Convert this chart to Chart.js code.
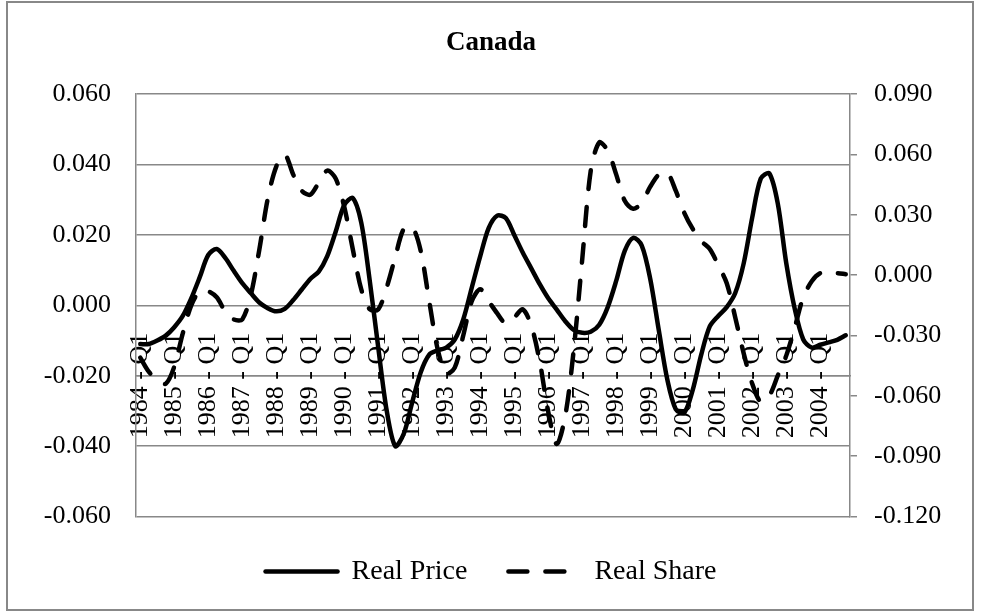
<!DOCTYPE html>
<html>
<head>
<meta charset="utf-8">
<script src="https://cdn.jsdelivr.net/npm/chart.js@4.4.0/dist/chart.umd.min.js"></script>
<style>
html,body{margin:0;padding:0;background:#fff;}
#wrap{width:982px;height:613px;}
</style>
</head>
<body>
<div id="wrap"><canvas id="c" width="982" height="613"></canvas></div>
<script>
const years = [1984,1985,1986,1987,1988,1989,1990,1991,1992,1993,1994,1995,1996,1997,1998,1999,2000,2001,2002,2003,2004];
const quarters = ['Q1','Q2','Q3','Q4'];
const categories = [];
years.forEach(y => quarters.forEach(q => categories.push(y + ' - ' + q)));

const realPrice = [
 -0.011, -0.011, -0.010, -0.0086,
 -0.0062, -0.003, 0.002, 0.008,
 0.0143, 0.016, 0.0135, 0.0098,
 0.0063, 0.0035, 0.0008, -0.0008,
 -0.0017, -0.001, 0.0015, 0.0045,
 0.0075, 0.0096, 0.014, 0.021,
 0.0285, 0.0305, 0.0235, 0.007,
 -0.012, -0.030, -0.040, -0.0365,
 -0.0275, -0.019, -0.014, -0.0128,
 -0.012, -0.0097, -0.004, 0.005,
 0.014, 0.022, 0.0255, 0.0248,
 0.020, 0.015, 0.0105, 0.006,
 0.002, -0.0012, -0.0045, -0.007,
 -0.0078, -0.0075, -0.0055, -0.0005,
 0.007, 0.0155, 0.0192, 0.017,
 0.0075, -0.007, -0.021, -0.0295,
 -0.0305, -0.024, -0.014, -0.006,
 -0.003, -0.0005, 0.0035, 0.012,
 0.025, 0.036, 0.0375, 0.029,
 0.012, -0.001, -0.0097, -0.012,
 -0.0112, -0.0105, -0.0098, -0.0085
];

const realShare = [
 -0.041, -0.048, -0.052, -0.054,
 -0.0455, -0.029, -0.015, -0.008,
 -0.008, -0.011, -0.018, -0.022,
 -0.022, -0.010, 0.0125, 0.038,
 0.054, 0.060, 0.050, 0.042,
 0.040, 0.046, 0.052, 0.048,
 0.034, 0.013, -0.007, -0.017,
 -0.017, -0.006, 0.009, 0.023,
 0.024, 0.012, -0.013, -0.037,
 -0.049, -0.046, -0.030, -0.013,
 -0.007, -0.013, -0.019, -0.024,
 -0.021, -0.017, -0.025, -0.043,
 -0.068, -0.084, -0.070, -0.037,
 0.008, 0.052, 0.066, 0.062,
 0.050, 0.037, 0.033, 0.036,
 0.044, 0.050, 0.051, 0.042,
 0.031, 0.023, 0.017, 0.013,
 0.005, -0.004, -0.021, -0.039,
 -0.054, -0.063, -0.060, -0.050,
 -0.040, -0.026, -0.011, -0.003,
 0.001, 0.001, 0.001, 0.0005
];

const leftTickValues = [-0.06, -0.04, -0.02, 0, 0.02, 0.04, 0.06];
const rightTickValues = [-0.12, -0.09, -0.06, -0.03, 0, 0.03, 0.06, 0.09];

const FONT = "'Liberation Serif', 'Times New Roman', serif";
const GRID = '#888888';
Chart.defaults.font.family = FONT;
Chart.defaults.color = '#000';

const fmt = v => (Math.abs(v) < 1e-9 ? 0 : v).toFixed(3);

const frame = {
  id: 'frame',
  beforeDraw(chart) {
    const c = chart.ctx;
    c.save();
    c.fillStyle = '#fff';
    c.fillRect(0, 0, chart.width, chart.height);
    c.strokeStyle = '#888';
    c.lineWidth = 2;
    c.strokeRect(7, 2, 966, 608);
    c.restore();
  }
};

new Chart(document.getElementById('c'), {
  type: 'line',
  data: {
    labels: categories,
    datasets: [
      {
        label: 'Real Price',
        data: realPrice,
        yAxisID: 'y',
        borderColor: '#000',
        backgroundColor: '#000',
        borderWidth: 4.5,
        borderCapStyle: 'round',
        borderJoinStyle: 'round',
        pointRadius: 0,
        tension: 0.3,
        fill: false
      },
      {
        label: 'Real Share',
        data: realShare,
        yAxisID: 'y1',
        borderColor: '#000',
        backgroundColor: '#000',
        borderWidth: 4.5,
        borderDash: [19, 18],
        borderCapStyle: 'round',
        borderJoinStyle: 'round',
        pointRadius: 0,
        tension: 0.3,
        fill: false
      }
    ]
  },
  options: {
    responsive: false,
    animation: false,
    devicePixelRatio: 1,
    layout: { padding: { left: 0, right: 0, top: 0, bottom: 17.5 } },
    plugins: {
      title: {
        display: true,
        text: 'Canada',
        color: '#000',
        font: { family: FONT, size: 27, weight: 'bold' },
        padding: { top: 26.4, bottom: 35.4 }
      },
      legend: {
        position: 'bottom',
        labels: {
          usePointStyle: true,
          pointStyle: 'line',
          pointStyleWidth: 72,
          color: '#000',
          font: { family: FONT, size: 28 },
          padding: 41,
          generateLabels(chart) {
            const items = Chart.defaults.plugins.legend.labels.generateLabels(chart);
            items.forEach(it => {
              const ds = chart.data.datasets[it.datasetIndex];
              it.lineDash = ds.borderDash || [];
              it.lineDashOffset = 0;
              it.lineCap = 'round';
              it.lineWidth = ds.borderWidth;
              it.strokeStyle = '#000';
              it.fillStyle = '#000';
              it.fontColor = '#000';
            });
            return items;
          }
        }
      },
      tooltip: { enabled: false }
    },
    scales: {
      x: {
        type: 'category',
        offset: true,
        position: { y: -0.02 },
        grid: { display: false, drawTicks: false },
        border: { display: true, color: GRID, width: 1.5 },
        ticks: {
          autoSkip: false,
          minRotation: 90,
          maxRotation: 90,
          padding: -43,
          color: '#000',
          font: { family: FONT, size: 26 },
          callback(value, index) { return index % 4 === 0 ? this.getLabelForValue(value) : ''; }
        }
      },
      y: {
        position: 'left',
        min: -0.06,
        max: 0.06,
        afterFit(s) { s.width = 136; },
        afterBuildTicks(s) { s.ticks = leftTickValues.map(v => ({ value: v })); },
        grid: { color: GRID, lineWidth: 1.5, drawTicks: false },
        border: { display: true, color: GRID, width: 1.5 },
        ticks: { padding: 25, color: '#000', font: { family: FONT, size: 26 }, callback: v => fmt(v) }
      },
      y1: {
        position: 'right',
        min: -0.12,
        max: 0.09,
        afterFit(s) { s.width = 132; },
        afterBuildTicks(s) { s.ticks = rightTickValues.map(v => ({ value: v })); },
        grid: { drawOnChartArea: false, color: GRID, lineWidth: 1.5, drawTicks: true, tickLength: 7 },
        border: { display: true, color: GRID, width: 1.5 },
        ticks: { padding: 17, color: '#000', font: { family: FONT, size: 26 }, callback: v => fmt(v) }
      }
    }
  },
  plugins: [frame]
});
</script>
</body>
</html>
